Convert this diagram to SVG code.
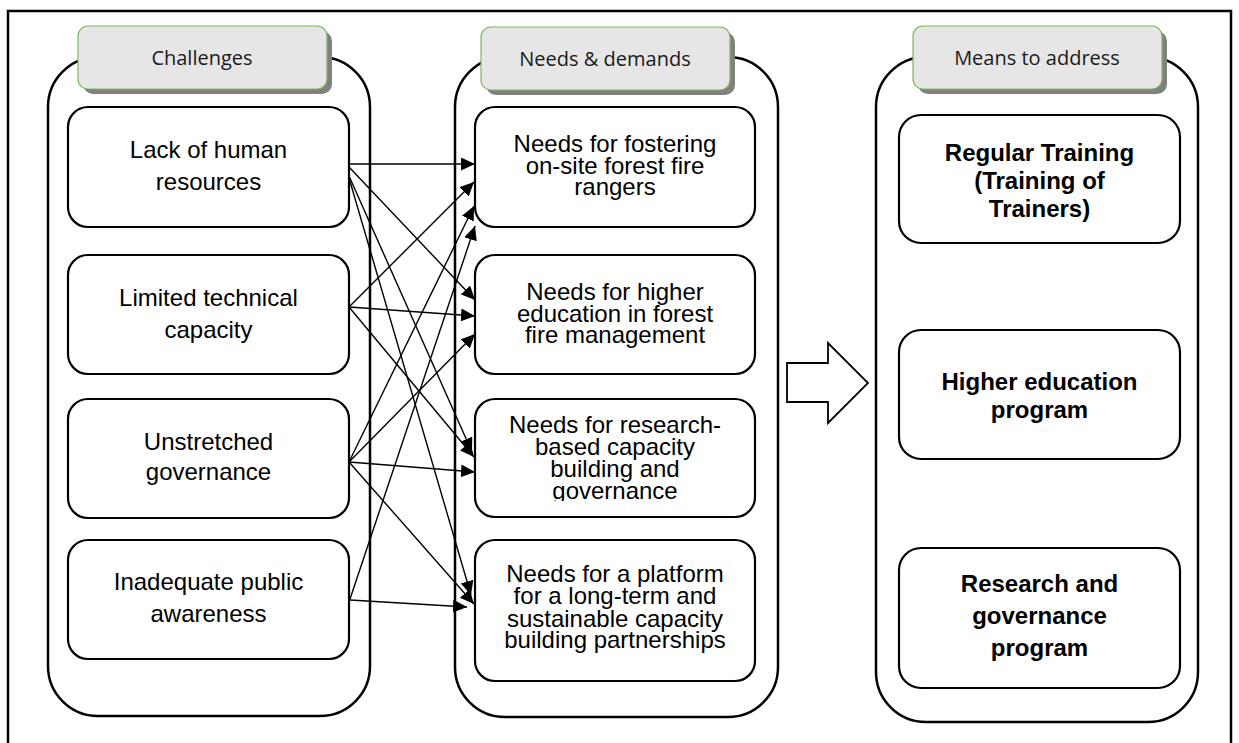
<svg xmlns="http://www.w3.org/2000/svg" width="1239" height="743" viewBox="0 0 1239 743">
<style>
.frame{fill:none;stroke:#000;stroke-width:2.5}
.cont{fill:#fff;stroke:#000;stroke-width:2.5}
.node{fill:#fff;stroke:#000;stroke-width:2.2}
.shadow{fill:#808080}
.tab{fill:#e6e6e6;stroke:#7cb85a;stroke-width:1.2}
.tabt{font-family:"Open Sans","Noto Sans",sans-serif;font-size:20px;fill:#1a1a1a;text-anchor:middle}
.t{font-family:"Liberation Sans",Arial,sans-serif;font-size:24px;fill:#000;text-anchor:middle}
.b{font-family:"Liberation Sans",Arial,sans-serif;font-size:24px;font-weight:bold;fill:#000;text-anchor:middle}
.c{stroke:#000;stroke-width:1.4;fill:none;marker-end:url(#ah)}
.big{fill:#fff;stroke:#000;stroke-width:1.8}
</style>
<defs>
<marker id="ah" markerUnits="userSpaceOnUse" markerWidth="16" markerHeight="14" refX="14" refY="6.5" orient="auto">
<path d="M0,0 L14,6.5 L0,13 z" fill="#000"/>
</marker>
<clipPath id="clipT3"><rect x="475" y="399" width="280" height="102"/></clipPath>
</defs>
<rect width="1239" height="743" fill="#fff"/>
<rect class="frame" x="8" y="11" width="1223" height="800"/>

<g id="col-challenges">
<rect class="cont" x="48" y="57" width="322" height="659" rx="50"/>
<rect class="shadow" x="83" y="31" width="249" height="63" rx="10"/>
<rect class="tab" x="78" y="26" width="249" height="63" rx="10"/>
<text class="tabt" x="202" y="65">Challenges</text>
</g>
<g id="col-needs">
<rect class="cont" x="455" y="57" width="323" height="660" rx="50"/>
<rect class="shadow" x="486" y="32" width="249" height="63" rx="10"/>
<rect class="tab" x="481" y="27" width="249" height="63" rx="10"/>
<text class="tabt" x="605" y="66">Needs &amp; demands</text>
</g>
<g id="col-means">
<rect class="cont" x="876" y="57" width="322" height="665" rx="50"/>
<rect class="shadow" x="918" y="31" width="249" height="63" rx="10"/>
<rect class="tab" x="913" y="26" width="249" height="63" rx="10"/>
<text class="tabt" x="1037" y="65">Means to address</text>
</g>

<g id="c1">
<rect class="node" x="68" y="107" width="281" height="120" rx="20"/>
<text class="t" x="208.5" y="158">Lack of human</text>
<text class="t" x="208.5" y="190">resources</text>
</g>
<g id="c2">
<rect class="node" x="68" y="255" width="281" height="119" rx="20"/>
<text class="t" x="208.5" y="306">Limited technical</text>
<text class="t" x="208.5" y="338">capacity</text>
</g>
<g id="c3">
<rect class="node" x="68" y="399" width="281" height="119" rx="20"/>
<text class="t" x="208.5" y="450">Unstretched</text>
<text class="t" x="208.5" y="480">governance</text>
</g>
<g id="c4">
<rect class="node" x="68" y="540" width="281" height="119" rx="20"/>
<text class="t" x="208.5" y="590">Inadequate public</text>
<text class="t" x="208.5" y="622">awareness</text>
</g>

<g id="n1">
<rect class="node" x="475" y="107" width="280" height="120" rx="20"/>
<text class="t" x="615" y="152">Needs for fostering</text>
<text class="t" x="615" y="173.5">on-site forest fire</text>
<text class="t" x="615" y="195">rangers</text>
</g>
<g id="n2">
<rect class="node" x="475" y="255" width="280" height="119" rx="20"/>
<text class="t" x="615" y="300">Needs for higher</text>
<text class="t" x="615" y="321.7">education in forest</text>
<text class="t" x="615" y="343.3">fire management</text>
</g>
<g id="n3">
<rect class="node" x="475" y="399" width="280" height="118" rx="20"/>
<g clip-path="url(#clipT3)">
<text class="t" x="615" y="433">Needs for research-</text>
<text class="t" x="615" y="455">based capacity</text>
<text class="t" x="615" y="477">building and</text>
<text class="t" x="615" y="498.5">governance</text>
</g>
</g>
<g id="n4">
<rect class="node" x="475" y="540" width="280" height="141" rx="20"/>
<text class="t" x="615" y="581.7">Needs for a platform</text>
<text class="t" x="615" y="604">for a long-term and</text>
<text class="t" x="615" y="626.7">sustainable capacity</text>
<text class="t" x="615" y="648.3">building partnerships</text>
</g>

<g id="m1">
<rect class="node" x="899" y="115" width="281" height="128" rx="22"/>
<text class="b" x="1039.5" y="160.5">Regular Training</text>
<text class="b" x="1039.5" y="188.5">(Training of</text>
<text class="b" x="1039.5" y="216.5">Trainers)</text>
</g>
<g id="m2">
<rect class="node" x="899" y="330" width="281" height="129" rx="22"/>
<text class="b" x="1039.5" y="390">Higher education</text>
<text class="b" x="1039.5" y="418">program</text>
</g>
<g id="m3">
<rect class="node" x="899" y="548" width="281" height="140" rx="22"/>
<text class="b" x="1039.5" y="592">Research and</text>
<text class="b" x="1039.5" y="624">governance</text>
<text class="b" x="1039.5" y="656">program</text>
</g>

<g id="big-arrow">
<polygon class="big" points="787,363 828,363 828,343 868,383 828,423 828,402 787,402"/>
</g>

<g id="connectors">
<line class="c" x1="349" y1="164" x2="475" y2="164"/>
<line class="c" x1="349" y1="167" x2="475" y2="300"/>
<line class="c" x1="349" y1="176" x2="472" y2="452"/>
<line class="c" x1="349" y1="178" x2="471" y2="595"/>
<line class="c" x1="349" y1="307" x2="474" y2="182"/>
<line class="c" x1="349" y1="307" x2="475" y2="316"/>
<line class="c" x1="349" y1="307" x2="474" y2="457"/>
<line class="c" x1="349" y1="462" x2="474" y2="206"/>
<line class="c" x1="349" y1="462" x2="475" y2="334"/>
<line class="c" x1="349" y1="462" x2="475" y2="472"/>
<line class="c" x1="349" y1="462" x2="474" y2="604"/>
<line class="c" x1="350" y1="599" x2="475" y2="226"/>
<line class="c" x1="350" y1="600" x2="467" y2="607"/>
</g>
</svg>
